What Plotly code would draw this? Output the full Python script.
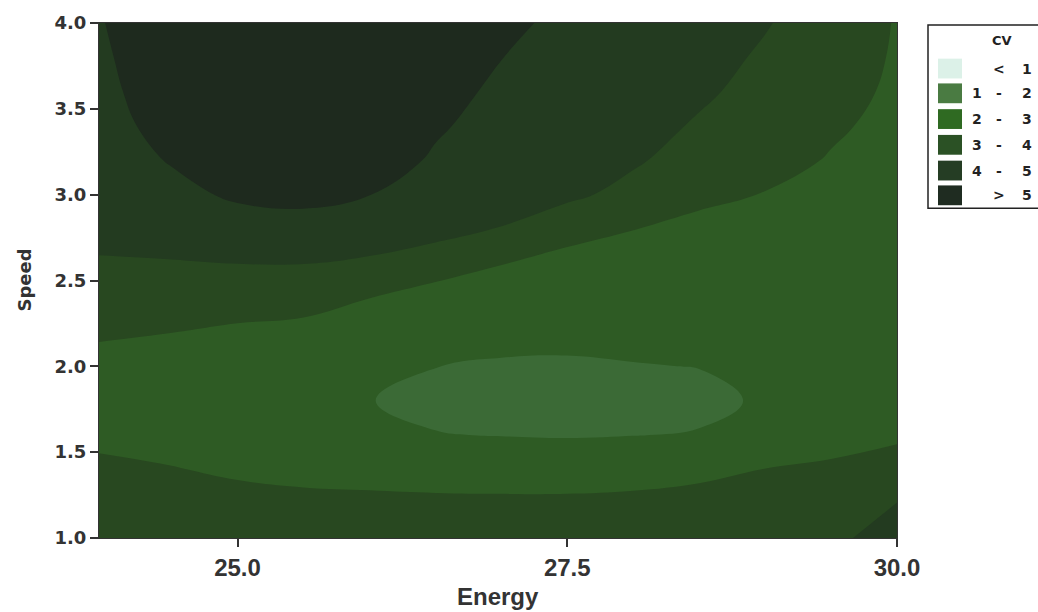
import plotly.graph_objects as go

# Energy (x) and Speed (y) grid on which CV was evaluated
energy = [23.9, 24.5, 25.0, 25.5, 26.0, 26.5, 27.0, 27.5, 28.0, 28.5, 29.0, 29.5, 30.0]
speed = [1.0, 1.2, 1.4, 1.6, 1.8, 2.0, 2.2, 2.4, 2.6, 2.8, 3.0, 3.2, 3.4, 3.6, 3.8, 4.0]

# CV values, one row per speed, one column per energy
cv = [
    [3.70, 3.60, 3.50, 3.45, 3.40, 3.35, 3.30, 3.30, 3.35, 3.45, 3.60, 3.85, 4.30],
    [3.42, 3.30, 3.22, 3.18, 3.14, 3.10, 3.08, 3.08, 3.12, 3.22, 3.32, 3.52, 4.02],
    [3.15, 3.03, 2.90, 2.80, 2.78, 2.78, 2.80, 2.80, 2.80, 2.85, 3.01, 3.15, 3.40],
    [2.85, 2.75, 2.62, 2.50, 2.32, 2.03, 1.97, 1.92, 1.98, 2.06, 2.45, 2.65, 2.85],
    [2.66, 2.56, 2.46, 2.31, 2.02, 1.81, 1.61, 1.50, 1.61, 1.76, 2.12, 2.38, 2.62],
    [2.78, 2.68, 2.58, 2.42, 2.16, 2.01, 1.90, 1.90, 1.96, 2.02, 2.22, 2.42, 2.60],
    [3.10, 3.01, 2.88, 2.78, 2.52, 2.40, 2.30, 2.22, 2.28, 2.32, 2.42, 2.55, 2.64],
    [3.50, 3.45, 3.35, 3.30, 3.01, 2.75, 2.62, 2.52, 2.52, 2.55, 2.60, 2.66, 2.68],
    [3.92, 3.95, 4.01, 4.02, 3.85, 3.30, 3.02, 2.82, 2.74, 2.72, 2.74, 2.76, 2.72],
    [4.25, 4.40, 4.62, 4.68, 4.55, 4.45, 3.95, 3.20, 3.01, 2.86, 2.87, 2.84, 2.76],
    [4.45, 4.78, 5.12, 5.22, 5.01, 4.72, 4.45, 4.25, 3.62, 3.12, 2.98, 2.91, 2.79],
    [4.58, 5.05, 5.45, 5.55, 5.32, 4.92, 4.62, 4.45, 4.15, 3.48, 3.20, 2.96, 2.82],
    [4.68, 5.25, 5.65, 5.75, 5.55, 5.08, 4.76, 4.58, 4.35, 3.90, 3.45, 3.08, 2.85],
    [4.76, 5.38, 5.78, 5.88, 5.70, 5.22, 4.88, 4.68, 4.46, 4.15, 3.70, 3.25, 2.88],
    [4.83, 5.46, 5.86, 5.96, 5.80, 5.35, 5.01, 4.77, 4.54, 4.27, 3.90, 3.45, 2.91],
    [4.90, 5.52, 5.92, 6.00, 5.85, 5.45, 5.15, 4.85, 4.60, 4.35, 4.05, 3.62, 2.94],
]

# Contour levels and the key entries (low, separator, high) for each band
cv_levels = [1, 2, 3, 4, 5]
key_entries = [("", "<", "1"), ("1", "-", "2"), ("2", "-", "3"),
               ("3", "-", "4"), ("4", "-", "5"), ("", ">", "5")]
band_colors = ["#9fd3b6", "#3b6a36", "#2e5b24", "#284820", "#233b20", "#1e2a1e"]
key_colors = ["#bfe6d6", "#4a7b42", "#2f6a22", "#2b5125", "#253d24", "#1f2c21"]

# plot area in pixels
L, R, T, B = 99, 897, 18, 538
W, H = 1038, 612


def px_x(px):
    return (px - L) / (R - L)


def px_y(py):
    return (B - py) / (B - T)


n_bands = len(band_colors)
colorscale = [[i / (n_bands - 1), c] for i, c in enumerate(band_colors)]

fig = go.Figure(
    go.Contour(
        x=energy,
        y=speed,
        z=cv,
        autocontour=False,
        contours=dict(start=cv_levels[0], end=cv_levels[-1], size=1,
                      coloring="fill", showlines=False),
        colorscale=colorscale,
        showscale=False,
        line=dict(smoothing=1.2, width=0),
        hoverinfo="skip",
    )
)

tick_font_y = dict(family="DejaVu Sans, Verdana, sans-serif", size=18, color="#333333", weight="bold")
tick_font_x = dict(family="Liberation Sans, Arial, sans-serif", size=24, color="#333333", weight="bold")

fig.update_xaxes(
    range=[23.95, 30.0],
    tickvals=[25.0, 27.5, 30.0],
    tickformat=".1f",
    ticks="outside", ticklen=8, tickwidth=1.5, tickcolor="#333333",
    tickfont=tick_font_x,
    showgrid=False, zeroline=False,
    showline=True, linecolor="#333333", linewidth=1, mirror=True,
)
fig.update_yaxes(
    range=[1.0, 4.0],
    tickvals=[1.0, 1.5, 2.0, 2.5, 3.0, 3.5, 4.0],
    tickformat=".1f",
    ticks="outside", ticklen=8, tickwidth=1.5, tickcolor="#333333",
    tickfont=tick_font_y,
    showgrid=False, zeroline=False,
    showline=True, linecolor="#333333", linewidth=1, mirror=True,
)

annotations = [
    dict(text="Energy", x=0.5, y=0, xref="paper", yref="paper",
         xanchor="center", yanchor="middle", yshift=-58, showarrow=False,
         font=dict(family="Liberation Sans, Arial, sans-serif", size=24,
                   color="#333333", weight="bold")),
    dict(text="Speed", x=0, y=0.5, xref="paper", yref="paper",
         xanchor="center", yanchor="middle", xshift=-75, textangle=-90,
         showarrow=False,
         font=dict(family="DejaVu Sans, Verdana, sans-serif", size=18,
                   color="#333333", weight="bold")),
    dict(text="CV", x=px_x(1002), y=px_y(36), xref="paper", yref="paper",
         xanchor="center", yanchor="middle", showarrow=False,
         font=dict(family="DejaVu Sans, Verdana, sans-serif", size=13,
                   color="#222222", weight="bold")),
]

shapes = [
    dict(type="rect", xref="paper", yref="paper",
         x0=px_x(928), x1=px_x(1048), y0=px_y(205), y1=px_y(20),
         line=dict(color="#222222", width=1.5), fillcolor="white", layer="above"),
]

key_font = dict(family="DejaVu Sans, Verdana, sans-serif", size=14, color="#222222", weight="bold")
row_y = [64, 89, 115, 141, 167, 192]
for i, (lo, sep, hi) in enumerate(key_entries):
    cy = row_y[i]
    shapes.append(dict(
        type="rect", xref="paper", yref="paper",
        x0=px_x(938), x1=px_x(962), y0=px_y(cy + 10), y1=px_y(cy - 10),
        line=dict(width=0), fillcolor=key_colors[i],
        opacity=0.55 if i == 0 else 1.0, layer="above",
    ))
    for txt, px in ((lo, 977), (sep, 999), (hi, 1027)):
        if txt:
            annotations.append(dict(
                text=txt, x=px_x(px), y=px_y(cy), xref="paper", yref="paper",
                xanchor="center", yanchor="middle", showarrow=False, font=key_font,
            ))

fig.update_layout(
    width=W, height=H,
    margin=dict(l=L, r=W - R, t=T, b=H - B, pad=0),
    paper_bgcolor="white", plot_bgcolor="white",
    shapes=shapes, annotations=annotations,
    showlegend=False,
)

fig.write_html("out.html")
